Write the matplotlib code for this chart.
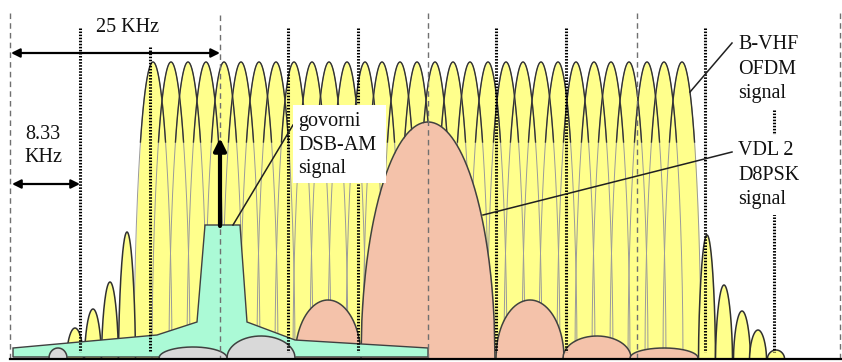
import matplotlib
matplotlib.use('Agg')
import matplotlib.pyplot as plt
import numpy as np
from matplotlib.patches import Rectangle

# everything in picture pixel units (x right, y down), baseline at y=358
BASE = 358

# B-VHF OFDM sub-carrier main lobes (centre x), all with top at y=62
ofdm_x = [153, 171, 188, 206, 224, 241, 259, 276, 294, 312, 329, 347, 365, 382, 400, 417,
          435, 453, 470, 488, 506, 523, 541, 558, 576, 594, 611, 629, 647, 664, 682]
ofdm_top = 62
# OFDM side lobes (centre x, top y)
side_x = [75, 93, 110, 127, 707, 724, 742, 758, 776]
side_top = [328, 309, 282, 232, 235, 285, 311, 330, 350]

# VDL2 D8PSK spectrum lobes: centre x, half width, top y, colour key
d8_x = [428, 328, 530, 597, 664, 261, 193, 58]
d8_hw = [67, 33, 34, 34, 34, 34, 34, 9]
d8_top = [122, 300, 300, 336, 348, 336, 347, 348]
d8_col = ['o', 'o', 'o', 'o', 'o', 'g', 'g', 'g']

# DSB-AM voice signal outline
am_x = [13, 13, 157, 197, 205, 240, 247, 295, 428, 428]
am_y = [357, 348, 335, 322, 225, 225, 322, 340, 348, 357]

# channel grid lines
grid25_x = [10, 220, 428, 637, 840]
grid25_top = [13, 15, 13, 13, 13]
grid833_x = [80, 150, 288, 358, 496, 566, 705, 774]
grid833_top = [28, 47, 28, 28, 28, 28, 28, 110]

YELLOW = '#FFFF8C'
ORANGE = '#F4C2AA'
GREY = '#D9D9D9'
GREEN = '#ABFAD6'


def lobe(xc, hw, top, p=0.5, n=160):
    u = np.linspace(-1, 1, n)
    x = xc + u * hw
    y = BASE - (BASE - top) * (1 - u ** 2) ** p
    return x, y


fig = plt.figure(figsize=(8.42, 3.62), dpi=100)
ax = fig.add_axes([0, 0, 1, 1])
ax.set_xlim(0, 842)
ax.set_ylim(362, 0)
ax.axis('off')

# OFDM lobes: fill first, then outlines (dark near the top, faint lower down)
for xc in ofdm_x:
    x, y = lobe(xc, 19, ofdm_top, 0.55)
    ax.fill_between(x, y, BASE, color=YELLOW, lw=0, zorder=1)
for xc in ofdm_x:
    x, y = lobe(xc, 19, ofdm_top, 0.55)
    ax.plot(x, y, color='#9a9a9a', lw=0.7, zorder=2)
    hi = y < BASE - 0.72 * (BASE - ofdm_top)
    ax.plot(x[hi], y[hi], color='#333333', lw=1.0, zorder=2)

for xc, t in zip(side_x, side_top):
    x, y = lobe(xc, 8.5, t, 0.6)
    ax.fill_between(x, y, BASE, color=YELLOW, lw=0, zorder=2)
    ax.plot(x, y, color='#303030', lw=1.1, zorder=2)

# D8PSK lobes (orange ones under the AM signal, grey ones above it)
for xc, hw, t, c in zip(d8_x, d8_hw, d8_top, d8_col):
    x, y = lobe(xc, hw, t, 0.5)
    z = 3 if c == 'o' else 5
    ax.fill_between(x, y, BASE, color=ORANGE if c == 'o' else GREY, lw=0, zorder=z)
    ax.plot(x, y, color='#404040', lw=1.1, zorder=z)

ax.fill(am_x, am_y, facecolor=GREEN, edgecolor='#404040', lw=1.0, zorder=4)

# grid lines
for gx, gt in zip(grid25_x, grid25_top):
    ax.plot([gx, gx], [gt, BASE], color='#707070', lw=1.0, ls=(0, (4, 3)), zorder=6)
for gx, gt in zip(grid833_x, grid833_top):
    ax.plot([gx, gx], [gt, 352], color='black', lw=2.2, ls=(0, (0.5, 0.5)), zorder=6)

ax.plot([10, 842], [359, 359], color='black', lw=1.6, zorder=6)

# dimension arrows
ax.annotate('', xy=(220, 53), xytext=(11, 53),
            arrowprops=dict(arrowstyle='<|-|>', color='black', lw=1.6,
                            mutation_scale=13, shrinkA=0, shrinkB=0), zorder=7)
ax.annotate('', xy=(80, 184), xytext=(12, 184),
            arrowprops=dict(arrowstyle='<|-|>', color='black', lw=1.6,
                            mutation_scale=13, shrinkA=0, shrinkB=0), zorder=7)
ax.annotate('', xy=(220, 138), xytext=(220, 226),
            arrowprops=dict(arrowstyle='-|>', color='black', lw=3.0,
                            mutation_scale=18, shrinkA=0, shrinkB=0), zorder=7)

# leader lines
ax.plot([690, 732], [92, 43], color='#202020', lw=1.1, zorder=7)
ax.plot([483, 732], [215, 152], color='#202020', lw=1.1, zorder=7)
ax.plot([233, 293], [225, 125], color='#202020', lw=1.1, zorder=7)

# label boxes
ax.add_patch(Rectangle((293, 105), 93, 78, facecolor='white', edgecolor='none', zorder=8))
ax.add_patch(Rectangle((734, 28), 72, 80, facecolor='white', edgecolor='none', zorder=8))
ax.add_patch(Rectangle((734, 135), 72, 80, facecolor='white', edgecolor='none', zorder=8))

font = dict(family='Liberation Serif', fontsize=14.5, color='#111111', zorder=9)
ax.text(128, 27, '25 KHz', ha='center', va='center', **font)
ax.text(43, 146, '8.33\nKHz', ha='center', va='center', multialignment='center',
        linespacing=1.35, **font)
ax.text(298, 145, 'govorni\nDSB-AM\nsignal', ha='left', va='center', linespacing=1.35, **font)
ax.text(738, 69, 'B-VHF\nOFDM\nsignal', ha='left', va='center', linespacing=1.4, **font)
ax.text(738, 175, 'VDL 2\nD8PSK\nsignal', ha='left', va='center', linespacing=1.4, **font)

fig.savefig('out.png', dpi=100)
